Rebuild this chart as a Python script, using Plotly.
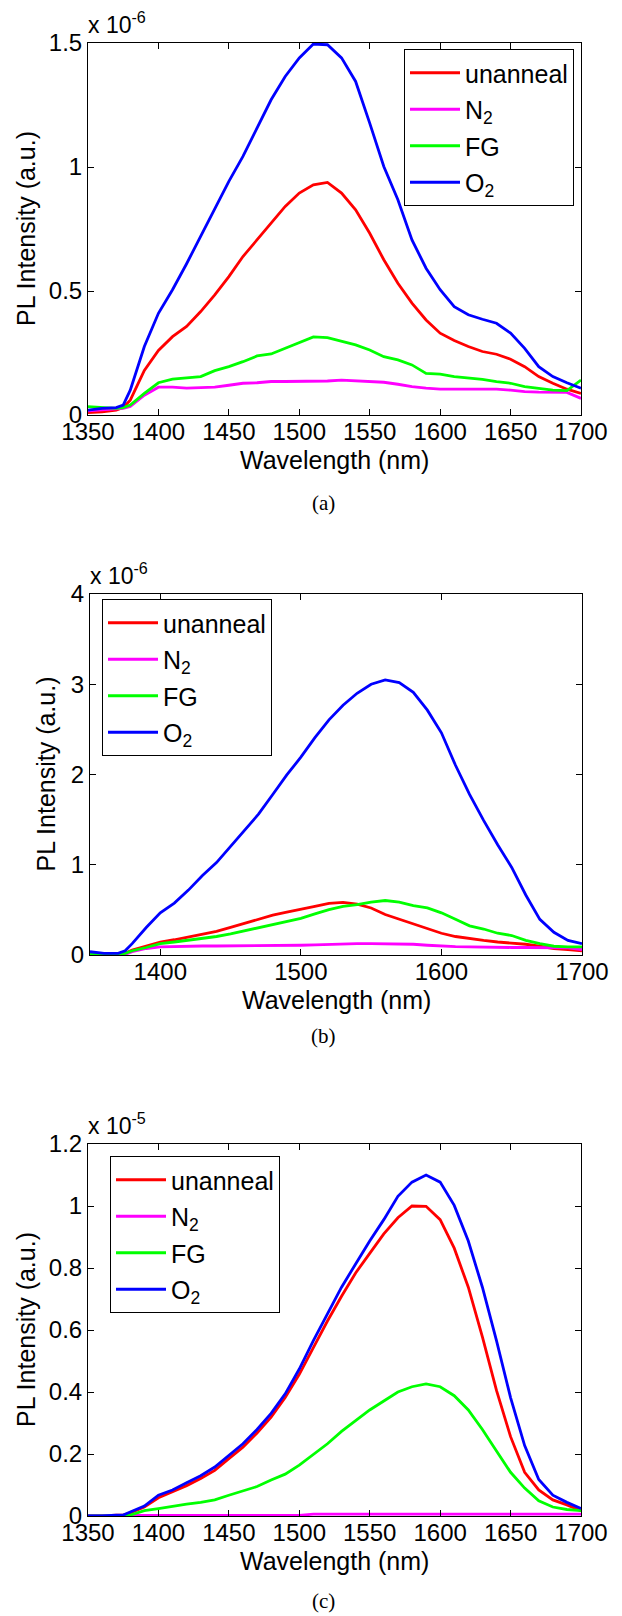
import plotly.graph_objects as go

W, H = 622, 1616

wavelength = [1350, 1360, 1370, 1375, 1380, 1390, 1400, 1410, 1420, 1430, 1440, 1450,
              1460, 1470, 1480, 1490, 1500, 1510, 1520, 1530, 1540, 1550, 1560, 1570,
              1580, 1590, 1600, 1610, 1620, 1630, 1640, 1650, 1660, 1670, 1680, 1690, 1700]

series_names = ["unanneal", "N<sub>2</sub>", "FG", "O<sub>2</sub>"]
series_colors = ["#FF0000", "#FF00FF", "#00FF00", "#0000FF"]

# Panel (a), units of 1e-6
a_unanneal = [0.01, 0.013, 0.02, 0.03, 0.06, 0.18, 0.26, 0.316, 0.357, 0.417, 0.484, 0.558,
              0.639, 0.706, 0.774, 0.841, 0.895, 0.928, 0.938, 0.895, 0.827, 0.733, 0.626, 0.531,
              0.451, 0.383, 0.33, 0.30, 0.276, 0.256, 0.245, 0.225, 0.195, 0.155, 0.128, 0.104, 0.087]
a_n2 = [0.017, 0.02, 0.023, 0.027, 0.034, 0.08, 0.112, 0.112, 0.108, 0.11, 0.112, 0.12,
        0.128, 0.13, 0.135, 0.135, 0.135, 0.136, 0.137, 0.141, 0.139, 0.136, 0.132, 0.124,
        0.114, 0.108, 0.104, 0.104, 0.104, 0.104, 0.104, 0.1, 0.094, 0.092, 0.091, 0.091, 0.067]
a_fg = [0.034, 0.031, 0.027, 0.03, 0.04, 0.087, 0.13, 0.145, 0.15, 0.155, 0.179, 0.195,
        0.215, 0.238, 0.246, 0.269, 0.289, 0.315, 0.312, 0.296, 0.283, 0.262, 0.235, 0.222,
        0.202, 0.168, 0.165, 0.155, 0.15, 0.144, 0.135, 0.128, 0.114, 0.108, 0.10, 0.098, 0.141]
a_o2 = [0.02, 0.027, 0.03, 0.04, 0.10, 0.276, 0.41, 0.505, 0.61, 0.72, 0.827, 0.942,
        1.043, 1.157, 1.271, 1.365, 1.44, 1.496, 1.493, 1.44, 1.345, 1.177, 1.002, 0.868,
        0.706, 0.592, 0.505, 0.437, 0.404, 0.386, 0.37, 0.33, 0.269, 0.195, 0.155, 0.13, 0.108]

# Panel (b), units of 1e-6
b_unanneal = [0.018, 0.007, 0.007, 0.018, 0.054, 0.097, 0.144, 0.169, 0.198, 0.226, 0.262, 0.305,
              0.352, 0.395, 0.442, 0.474, 0.503, 0.539, 0.571, 0.582, 0.564, 0.521, 0.449, 0.395,
              0.341, 0.288, 0.241, 0.205, 0.18, 0.162, 0.144, 0.133, 0.119, 0.097, 0.072, 0.061, 0.047]
b_n2 = [0.007, 0.007, 0.007, 0.007, 0.036, 0.072, 0.09, 0.095, 0.1, 0.1, 0.1, 0.1,
        0.108, 0.108, 0.108, 0.108, 0.108, 0.112, 0.119, 0.122, 0.126, 0.126, 0.126, 0.124,
        0.119, 0.108, 0.097, 0.092, 0.09, 0.085, 0.083, 0.083, 0.083, 0.083, 0.083, 0.08, 0.061]
b_fg = [0.011, 0.007, 0.007, 0.018, 0.047, 0.083, 0.126, 0.144, 0.162, 0.187, 0.205, 0.234,
        0.27, 0.305, 0.334, 0.37, 0.406, 0.456, 0.503, 0.539, 0.557, 0.586, 0.604, 0.586,
        0.546, 0.521, 0.467, 0.395, 0.323, 0.288, 0.241, 0.216, 0.162, 0.126, 0.097, 0.09, 0.09]
b_o2 = [0.036, 0.018, 0.018, 0.047, 0.126, 0.305, 0.467, 0.575, 0.719, 0.88, 1.024, 1.204,
        1.384, 1.563, 1.779, 1.995, 2.192, 2.408, 2.606, 2.767, 2.90, 3.0, 3.048, 3.019,
        2.911, 2.713, 2.462, 2.102, 1.779, 1.491, 1.222, 0.97, 0.665, 0.395, 0.252, 0.162, 0.126]

# Panel (c), units of 1e-5
c_unanneal = [0.0, 0.0, 0.003, 0.003, 0.01, 0.029, 0.059, 0.078, 0.098, 0.121, 0.147, 0.185,
              0.222, 0.268, 0.319, 0.382, 0.457, 0.543, 0.629, 0.709, 0.784, 0.847, 0.91, 0.962,
              1.0, 0.999, 0.956, 0.864, 0.738, 0.578, 0.405, 0.256, 0.141, 0.084, 0.052, 0.036, 0.017]
c_n2 = [0.002] * 17 + [0.006] * 20
c_fg = [0.0, 0.0, 0.0, 0.0, 0.003, 0.017, 0.024, 0.032, 0.038, 0.044, 0.052, 0.067,
        0.08, 0.095, 0.116, 0.135, 0.164, 0.199, 0.233, 0.273, 0.308, 0.342, 0.371, 0.4,
        0.417, 0.426, 0.417, 0.388, 0.342, 0.279, 0.21, 0.141, 0.09, 0.049, 0.029, 0.021, 0.017]
c_o2 = [0.0, 0.0, 0.003, 0.003, 0.013, 0.032, 0.067, 0.084, 0.107, 0.13, 0.158, 0.196,
        0.233, 0.279, 0.331, 0.394, 0.474, 0.566, 0.652, 0.738, 0.813, 0.887, 0.956, 1.031,
        1.077, 1.1, 1.077, 1.002, 0.887, 0.738, 0.566, 0.382, 0.227, 0.118, 0.067, 0.044, 0.024]

x_ticks_a = [1350, 1400, 1450, 1500, 1550, 1600, 1650, 1700]
x_ticks_b = [1400, 1500, 1600, 1700]
x_ticks_c = [1350, 1400, 1450, 1500, 1550, 1600, 1650, 1700]
y_ticks_a = [0, 0.5, 1, 1.5]
y_ticks_b = [0, 1, 2, 3, 4]
y_ticks_c = [0, 0.2, 0.4, 0.6, 0.8, 1, 1.2]
y_tick_text_a = ["0", "0.5", "1", "1.5"]
y_tick_text_b = ["0", "1", "2", "3", "4"]
y_tick_text_c = ["0", "0.2", "0.4", "0.6", "0.8", "1", "1.2"]
exponents = ["-6", "-6", "-5"]
captions = ["(a)", "(b)", "(c)"]

# pixel boxes of each plot area: left, right, top, bottom
boxes = [(88, 581, 43, 415), (90, 582, 594, 955), (88, 581, 1144, 1516)]
legend_pos = [(404, 49), (102, 599), (110, 1156)]
ylabel_x = [26, 46, 26]
caption_y = [503, 1036, 1601]

panels = [
    ([a_unanneal, a_n2, a_fg, a_o2], x_ticks_a, y_ticks_a, y_tick_text_a, [0, 1.5]),
    ([b_unanneal, b_n2, b_fg, b_o2], x_ticks_b, y_ticks_b, y_tick_text_b, [0, 4]),
    ([c_unanneal, c_n2, c_fg, c_o2], x_ticks_c, y_ticks_c, y_tick_text_c, [0, 1.2]),
]

FONT = "Liberation Sans, Arial, sans-serif"
fx = lambda px: px / W
fy = lambda py: 1 - py / H

fig = go.Figure()
layout = dict(template="none", width=W, height=H,
              margin=dict(l=0, r=0, t=0, b=0, pad=0, autoexpand=False),
              paper_bgcolor="white", plot_bgcolor="white",
              font=dict(family=FONT, size=24, color="black"), annotations=[])

for i, (series, xt, yt, ytt, yr) in enumerate(panels):
    n = "" if i == 0 else str(i + 1)
    leg = "legend" if i == 0 else "legend" + str(i + 1)
    for s, (vals, name, col) in enumerate(zip(series, series_names, series_colors)):
        fig.add_trace(go.Scatter(x=wavelength, y=vals, mode="lines", name=name,
                                 line=dict(color=col, width=2.8),
                                 xaxis="x" + n, yaxis="y" + n, legend=leg,
                                 legendgroup=f"g{i}{s}"))
    l, r, t, b = boxes[i]
    axcommon = dict(showline=True, linecolor="black", linewidth=1, mirror="ticks",
                    ticks="inside", ticklen=6, tickcolor="black", showgrid=False,
                    zeroline=False, automargin=False,
                    tickfont=dict(size=24, family=FONT, color="black"))
    layout["xaxis" + n] = dict(domain=[fx(l), fx(r)], range=[1350, 1700], tickvals=xt,
                               anchor="y" + n, ticklabelstandoff=-5, **axcommon)
    layout["yaxis" + n] = dict(domain=[fy(b), fy(t)], range=yr, tickvals=yt, ticktext=ytt,
                               anchor="x" + n, **axcommon)
    lx, ly = legend_pos[i]
    layout[leg] = dict(x=fx(lx), y=fy(ly), xanchor="left", yanchor="top",
                       bordercolor="black", borderwidth=1, bgcolor="white",
                       font=dict(size=25, family=FONT, color="black"),
                       tracegroupgap=1, itemwidth=50)
    ann = layout["annotations"]
    ann.append(dict(text="x 10<sup>" + exponents[i] + "</sup>", x=fx(l - 2), y=fy(t - 3),
                    xref="paper", yref="paper", xanchor="left", yanchor="bottom",
                    showarrow=False, font=dict(size=23, family=FONT)))
    ann.append(dict(text="Wavelength (nm)", x=fx((l + r) / 2), y=fy(b + 45),
                    xref="paper", yref="paper", xanchor="center", yanchor="middle",
                    showarrow=False, font=dict(size=25, family=FONT)))
    ann.append(dict(text="PL Intensity (a.u.)", x=fx(ylabel_x[i]), y=fy((t + b) / 2),
                    xref="paper", yref="paper", xanchor="center", yanchor="middle",
                    textangle=-90, showarrow=False, font=dict(size=25, family=FONT)))
    ann.append(dict(text=captions[i], x=fx(323), y=fy(caption_y[i]), xref="paper", yref="paper",
                    xanchor="center", yanchor="middle", showarrow=False,
                    font=dict(size=21, family="Liberation Serif, Times New Roman, serif")))

fig.update_layout(**layout)
fig.write_html("out.html", config={"displayModeBar": False},
               post_script="document.body.style.margin='0';")
